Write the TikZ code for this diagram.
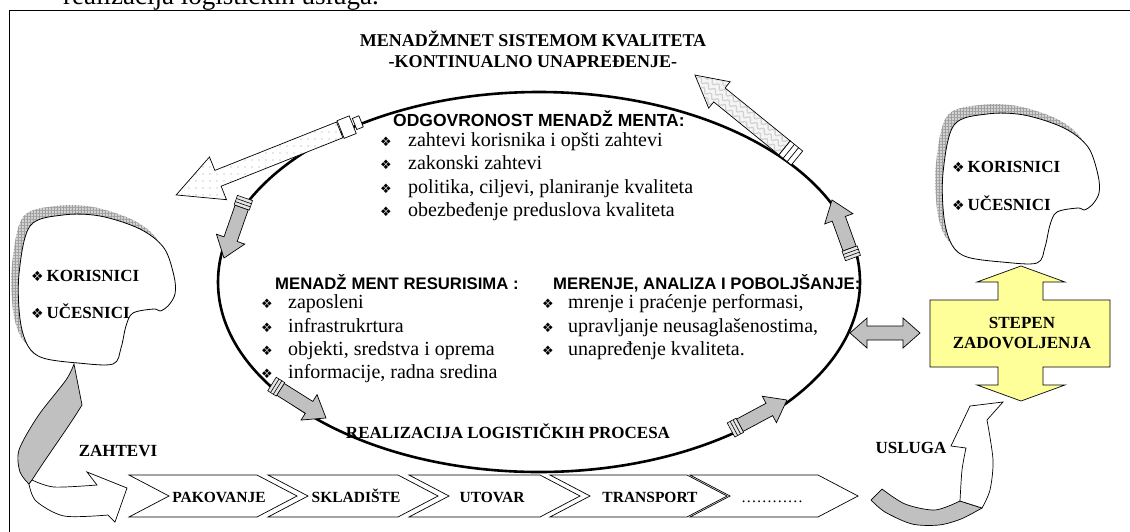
\documentclass[tikz,border=0pt]{standalone}
\usepackage{fontspec}
\setmainfont{Liberation Serif}
\newfontfamily\arialf{Liberation Sans}
\newfontfamily\djv{DejaVu Sans}
\usetikzlibrary{patterns.meta,decorations.pathmorphing}
\definecolor{arrgray}{RGB}{192,192,192}
\definecolor{boxyellow}{RGB}{255,255,153}
\newcommand\bulsym{{\djv\fontsize{13}{13}\selectfont ❖}}
\newcommand\bulbig{{\djv\fontsize{14}{14}\selectfont ❖}}
\newcommand\blobpath{plot[smooth cycle, tension=0.55] coordinates {(12,12) (45,1) (82,2) (122,15) (146,34) (156,62) (157,80) (150,92) (142,97) (136,95) (115,99) (108,112) (103,134) (95,150) (60,149) (25,144) (10,132) (2,105) (1,60)}}
\newcommand\grayarr[3]{%
  \begin{scope}[shift={#1}, rotate=#2]
    \draw[fill=arrgray, line width=0.7pt] (10,7) -- ({#3-20},7) -- ({#3-20},15) -- (#3,0) -- ({#3-20},-15) -- ({#3-20},-7) -- (10,-7) -- cycle;
    \draw[fill=gray!20, line width=0.6pt] (0,-8) rectangle (10,8);
    \draw[line width=0.6pt] (3.3,-8) -- (3.3,8) (6.6,-8) -- (6.6,8);
  \end{scope}}
\tikzset{
  bodytxt/.style={anchor=base west, inner sep=0pt, font=\fontsize{20}{23}\selectfont},
  bultxt/.style={anchor=base west, inner sep=0pt},
  headtxt/.style={anchor=base west, inner sep=0pt, font=\arialf\bfseries\fontsize{16.7}{19}\selectfont},
  captxt/.style={anchor=base, inner sep=0pt, font=\bfseries\fontsize{17}{20}\selectfont},
  blobtxt/.style={anchor=base west, inner sep=0pt, font=\bfseries\fontsize{17}{20}\selectfont},
  chevtxt/.style={anchor=base, inner sep=0pt, font=\bfseries\fontsize{15.5}{18}\selectfont},
  chev/.style={draw, fill=white, line width=0.7pt},
  shadowfill/.style={fill=gray!35},
  shadowgrid/.style={pattern={Hatch[angle=0,distance=3pt,line width=0.35pt]}, pattern color=gray!75},
}
\begin{document}
\begin{tikzpicture}[x=1pt,y=-1pt]
\useasboundingbox (0,0) rectangle (1130,531);
% frame
\draw[line width=0.8pt] (9,545) -- (9,10.5) -- (1145,10.5);
% partially visible text above the frame
\node[anchor=base west, inner sep=0pt, font=\fontsize{27}{30}\selectfont] (toptext) at (63,4.5) {realizacija logističkih usluga.};
% title
\node[captxt, font=\bfseries\fontsize{18}{21}\selectfont] (title1) at (533,46) {MENADŽMNET SISTEMOM KVALITETA};
\node[captxt, font=\bfseries\fontsize{18}{21}\selectfont] (title2) at (533,67) {-KONTINUALNO UNAPREĐENJE-};

% ellipse
\draw[line width=2.6pt] (539,282) ellipse [x radius=321pt, y radius=190pt];

% dotted arrow (upper left)
\begin{scope}[shift={(362,121)}, rotate=-158.3]
  \draw[preaction={fill=white}, pattern={Dots[distance=7pt,radius=0.7pt]}, pattern color=gray!80, line width=0.7pt]
    (24,8.5) -- (155,8.5) -- (155,23) -- (200,0) -- (155,-23) -- (155,-8.5) -- (24,-8.5) -- cycle;
  \draw[fill=white, line width=0.7pt] (10,-9.5) rectangle (23,9.5);
  \draw[fill=white, line width=0.7pt] (1,-6) rectangle (8,6);
\end{scope}

% wavy arrow (upper right)
\begin{scope}[shift={(797,158)}, rotate=140.9]
  \path[fill=gray!8] (16,9) -- (100,9) -- (100,17) -- (131.5,0) -- (100,-17) -- (100,-9) -- (16,-9) -- cycle;
  \begin{scope}
    \clip (16,9) -- (100,9) -- (100,17) -- (131.5,0) -- (100,-17) -- (100,-9) -- (16,-9) -- cycle;
    \foreach \yy in {-12,-6,0,6,12}
      \draw[gray!35, line width=1.3pt, decorate, decoration={snake, amplitude=2pt, segment length=9pt}] (10,\yy) -- (140,\yy);
  \end{scope}
  \draw[line width=0.7pt] (16,9) -- (100,9) -- (100,17) -- (131.5,0) -- (100,-17) -- (100,-9) -- (16,-9) -- cycle;
  \draw[fill=white, line width=0.7pt] (0,-9) rectangle (16,9);
  \draw[line width=0.7pt] (5.3,-9) -- (5.3,9) (10.6,-9) -- (10.6,9);
\end{scope}

% gray arrows on the ellipse
\grayarr{(245,198)}{-109.3}{63.6}
\grayarr{(272,384)}{-32.2}{63.8}
\grayarr{(731,430)}{28.2}{63.5}
\grayarr{(853,258)}{109.9}{61.7}

% texts in ellipse
\node[headtxt, font=\arialf\bfseries\fontsize{17.5}{20}\selectfont] (odg) at (393,126) {ODGOVRONOST MENADŽ\kern5pt MENTA:};
\foreach \yy/\tx [count=\i] in {146/{zahtevi korisnika i opšti zahtevi},169/{zakonski zahtevi},193/{politika, ciljevi, planiranje kvaliteta},216/{obezbeđenje preduslova kvaliteta}} {
  \node[bultxt] (ga\i) at (380,\yy) {\bulsym};
  \node[bodytxt] (gat\i) at (408,\yy) {\tx};
}
\node[headtxt] (res) at (275,289) {MENADŽ\kern5pt MENT RESURISIMA :};
\foreach \yy/\tx [count=\i] in {308/{zaposleni},332/{infrastrukrtura},355/{objekti, sredstva i oprema},378/{informacije, radna sredina}} {
  \node[bultxt] (gb\i) at (261,\yy) {\bulsym};
  \node[bodytxt] (gbt\i) at (288,\yy) {\tx};
}
\node[headtxt] (mer) at (553,289) {MERENJE, ANALIZA I POBOLJŠANJE:};
\foreach \yy/\tx [count=\i] in {308/{mrenje i praćenje performasi,},332/{upravljanje neusaglašenostima,},355/{unapređenje kvaliteta.}} {
  \node[bultxt] (gc\i) at (542,\yy) {\bulsym};
  \node[bodytxt] (gct\i) at (568,\yy) {\tx};
}
\node[captxt] (real) at (508,438) {REALIZACIJA LOGISTIČKIH PROCESA};

% left blob
\begin{scope}[shift={(18,214)}]
  \fill[shadowfill, shift={(-7,-9)}] \blobpath;
  \fill[shadowgrid, shift={(-7,-9)}] \blobpath;
  \draw[fill=white, line width=0.8pt] \blobpath;
\end{scope}
\node[blobtxt] (lk) at (31,281) {\bulbig\,KORISNICI};
\node[blobtxt] (lu) at (31,318) {\bulbig\,UČESNICI};

% right blob
\begin{scope}[shift={(942,113)}]
  \fill[shadowfill, shift={(-7,-9)}] \blobpath;
  \fill[shadowgrid, shift={(-7,-9)}] \blobpath;
  \draw[fill=white, line width=0.8pt] \blobpath;
\end{scope}
\node[blobtxt] (rk) at (952,172) {\bulbig\,KORISNICI};
\node[blobtxt] (ru) at (952,210) {\bulbig\,UČESNICI};

% double arrow
\draw[fill=arrgray, line width=0.7pt] (850,333) -- (867,318) -- (867,326) -- (903,326) -- (903,318) -- (920,333) -- (903,348) -- (903,340) -- (867,340) -- (867,348) -- cycle;

% STEPEN ZADOVOLJENJA shape
\draw[fill=boxyellow, line width=0.7pt] (1021,266) -- (1065,282) -- (1043,282) -- (1043,300) -- (1110,300) -- (1110,367) -- (1043,367) -- (1043,385) -- (1065,385) -- (1021,401) -- (977,385) -- (998,385) -- (998,367) -- (930,367) -- (930,300) -- (998,300) -- (998,282) -- (977,282) -- cycle;
\node[captxt] (st1) at (1022,328) {STEPEN};
\node[captxt] (st2) at (1022,348) {ZADOVOLJENJA};

% ZAHTEVI curved arrow
\draw[fill=arrgray, line width=0.7pt] plot[smooth] coordinates {(74,364) (66,380) (38,416) (19,450) (20,472) (29,484)} -- (32,480) .. controls (50,452) and (68,428) .. (82,405) -- cycle;
\draw[fill=white, line width=0.7pt] plot[smooth] coordinates {(32,480) (54,487) (97,485)} -- (87,472) -- (127,488) -- (115,522) -- plot[smooth] coordinates {(108,515) (64,516) (36,501) (29,484)} -- cycle;
\node[captxt] (zah) at (118,456) {ZAHTEVI};

% USLUGA curved arrow
\draw[fill=arrgray, line width=0.7pt] (871,500) -- plot[smooth] coordinates {(882,489) (905,504) (935,510) (960,501)} -- (982,508) -- plot[smooth] coordinates {(982,508) (961,519) (939,525) (912,524) (885,512) (871,500)} -- cycle;
\draw[fill=white, line width=0.7pt] plot[smooth] coordinates {(960,501) (962,470) (966,448)} -- (951,446) -- (970,406) -- (1003,402) -- (987,420) -- plot[smooth] coordinates {(987,420) (993,460) (990,490) (982,508)} -- cycle;
\node[captxt] (usl) at (911,453) {USLUGA};

% process chevrons
\foreach \L/\R/\tx/\cx [count=\i] in {129/257/PAKOVANJE/219, 268/398/SKLADIŠTE/356, 409/540/UTOVAR/492, 550/687/TRANSPORT/650, 690/818/{\mdseries …………}/772} {
  \draw[chev] (\L,475) -- (\R,475) -- (\R+40,496) -- (\R,517) -- (\L,517) -- (\L+40,496) -- cycle;
  \node[chevtxt] (ch\i) at (\cx,502) {\tx};
}
\end{tikzpicture}
\end{document}
